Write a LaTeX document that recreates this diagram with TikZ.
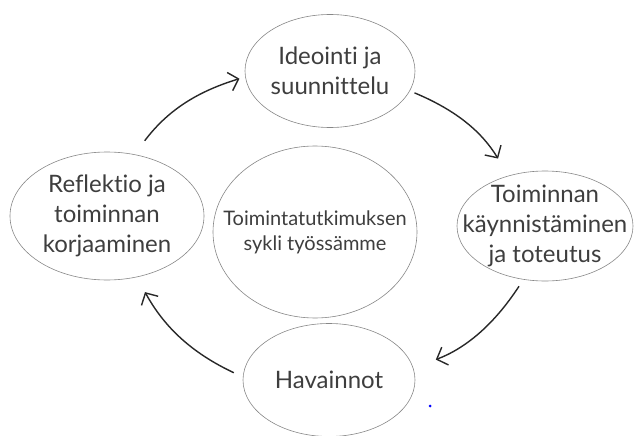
\documentclass[tikz,border=0pt]{standalone}
\usepackage{fontspec}
\setmainfont{Lato}[Ligatures={NoCommon,NoRare}]
\usetikzlibrary{shapes.geometric,arrows.meta}

\definecolor{txtgray}{RGB}{62,62,62}
\definecolor{rimgray}{RGB}{135,135,135}
\definecolor{arrowgray}{RGB}{40,40,40}

\tikzset{
  phase/.style={ellipse, draw=rimgray, line width=0.6pt, inner sep=-60pt,
    align=center, text=txtgray, font=\fontsize{24}{30}\selectfont},
  cyclearrow/.style={draw=arrowgray, line width=1.4pt,
    -{Straight Barb[length=9pt,width=19pt]}}
}

\begin{document}
\begin{tikzpicture}[x=1pt,y=1pt,yscale=-1,xscale=1]
\useasboundingbox (0,0) rectangle (637,436);

%Shape: Ellipse (top)
\node[phase, minimum width=170pt, minimum height=113pt] (idea) at (330,71) {Ideointi ja\\suunnittelu};
%Shape: Ellipse (right)
\node[phase, minimum width=176pt, minimum height=110pt] (impl) at (545,226) {Toiminnan\\käynnistäminen\\ja toteutus};
%Shape: Ellipse (bottom)
\node[phase, minimum width=172pt, minimum height=113pt] (obs) at (329,380) {Havainnot};
%Shape: Ellipse (left)
\node[phase, minimum width=194pt, minimum height=128pt] (refl) at (107,216) {Reflektio ja\\toiminnan\\korjaaminen};
%Shape: Ellipse (middle)
\node[phase, minimum width=204pt, minimum height=172pt, font=\fontsize{20}{25}\selectfont] (cycle) at (315,232) {Toimintatutkimuksen\\sykli työssämme};

%Curved arrows
\draw[cyclearrow, shorten <=17pt, shorten >=6pt] (refl.66) to[bend right=18] (idea.184);
\draw[cyclearrow, shorten <=5pt, shorten >=20pt] (idea.-14) to[bend right=18] (impl.126);
\draw[cyclearrow, shorten <=8pt, shorten >=24pt] (impl.-112) to[bend right=18] (obs.8);
\draw[cyclearrow, shorten <=10pt, shorten >=17pt] (obs.178) to[bend right=18] (refl.-64);

%stray dot
\fill[blue] (430,406) circle (1.5);

\end{tikzpicture}
\end{document}
